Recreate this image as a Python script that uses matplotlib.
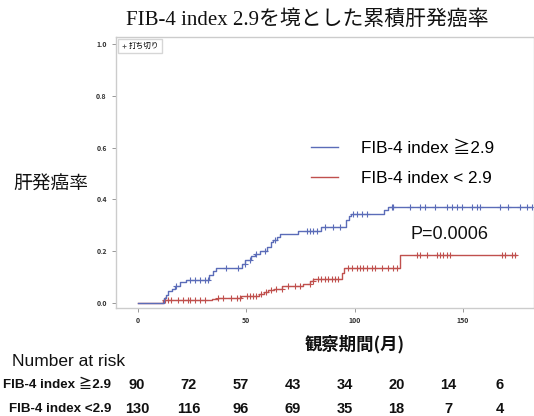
import numpy as np
import matplotlib.pyplot as plt
from matplotlib.lines import Line2D
from matplotlib.transforms import blended_transform_factory

plt.rcParams['font.family'] = ['Noto Sans CJK JP', 'DejaVu Sans']
sans = ['Liberation Sans', 'Noto Sans CJK JP']

# cumulative incidence step curves (event time, value after step)
hi_times = [0, 12, 13, 14, 15.5, 17, 19.5, 22, 33, 34.5, 36, 48, 49.5, 52, 54, 56.5,
            59.5, 61.5, 62.5, 64, 65.5, 74, 84.5, 96, 97.5, 98.5, 113.5, 115.5]
hi_vals = [0, 0.02, 0.03, 0.045, 0.055, 0.065, 0.08, 0.09, 0.11, 0.125, 0.135, 0.15, 0.165,
           0.18, 0.19, 0.2, 0.215, 0.235, 0.245, 0.255, 0.265, 0.28, 0.295, 0.32, 0.335,
           0.345, 0.36, 0.37]
hi_end = 182

lo_times = [0, 11.5, 34, 37, 47.5, 56, 58, 60, 63, 66.5, 76, 79.5, 81, 94, 95, 121]
lo_vals = [0, 0.01, 0.015, 0.019, 0.028, 0.035, 0.042, 0.05, 0.056, 0.065, 0.075, 0.085,
           0.093, 0.115, 0.137, 0.187]
lo_end = 174.5

# censored observations
hi_cens = [17.7, 23.9, 26.2, 28.5, 30.8, 32.4, 40.8, 46.2, 49.3, 51.6, 54.7, 58.6, 63.2,
           77.8, 79.4, 80.9, 82.7, 86.3, 90.1, 93.2, 99.4, 100.9, 103.2, 105.5, 117.1,
           117.9, 125.6, 130.2, 132.5, 137.1, 142.5, 144.8, 147.1, 149.5, 154.1, 156.4,
           157.9, 167.2, 171.0, 176.4, 179.5, 181.8]
lo_cens = [12.3, 13.9, 15.4, 18.5, 20.8, 23.1, 23.9, 26.2, 28.5, 30.8, 37.0, 39.3, 43.1,
           45.5, 47.0, 50.1, 51.6, 53.2, 54.7, 57.0, 59.3, 61.6, 63.9, 66.3, 69.3, 72.4,
           74.7, 79.4, 80.9, 83.2, 84.7, 86.3, 87.8, 89.4, 90.9, 92.4, 97.1, 98.6, 100.9,
           102.5, 104.0, 105.5, 107.9, 109.4, 112.5, 115.6, 117.9, 119.4, 128.7, 130.2,
           133.3, 137.9, 139.4, 141.0, 142.5, 144.1, 168.0, 169.5, 172.6, 174.1]

risk_times = [0, 25, 50, 75, 100, 125, 150, 175]
risk_hi = [90, 72, 57, 43, 34, 20, 14, 6]
risk_lo = [130, 116, 96, 69, 35, 18, 7, 4]

label_hi = 'FIB-4 index ≧2.9'
label_lo = 'FIB-4 index < 2.9'
blue = '#5b6cb8'
red = '#c0504d'


def step_value(times, vals, t):
    idx = np.searchsorted(times, t, side='right') - 1
    return np.asarray(vals)[idx]


fig = plt.figure(figsize=(5.34, 4.16), dpi=100)
ax = fig.add_axes([0.217, 0.2596, 0.783, 0.6514])

for times, vals, end, cens, col in [
    (lo_times, lo_vals, lo_end, lo_cens, red),
    (hi_times, hi_vals, hi_end, hi_cens, blue),
]:
    ax.step(list(times) + [end], list(vals) + [vals[-1]], where='post', color=col, lw=1.0)
    ax.plot(cens, step_value(times, vals, cens), ls='none', marker='+', ms=4,
            mew=0.8, color=col)

ax.set_xlim(-10.2, 182.8)
ax.set_ylim(-0.019, 1.027)
ax.set_xticks([0, 50, 100, 150])
ax.set_yticks([0.0, 0.2, 0.4, 0.6, 0.8, 1.0])
ax.set_yticklabels(['0.0', '0.2', '0.4', '0.6', '0.8', '1.0'])
ax.tick_params(labelsize=5, colors='#888888', labelcolor='#333333', length=3, width=0.6)
for lab in ax.get_xticklabels() + ax.get_yticklabels():
    lab.set_fontweight('bold')
for sp in ax.spines.values():
    sp.set_color('#cccccc')
    sp.set_linewidth(1.0)

# group legend
handles = [Line2D([], [], color=blue, lw=1.0), Line2D([], [], color=red, lw=1.0)]
leg = ax.legend(handles, [label_hi, label_lo], loc='center left',
                bbox_to_anchor=(0.43, 0.533), frameon=False,
                prop={'family': sans, 'size': 12.3},
                handlelength=1.6, handletextpad=1.3, labelspacing=0.9)
ax.add_artist(leg)

# censor legend
cens_h = [Line2D([], [], ls='none', marker='+', ms=3, mew=0.6, color='#555555')]
ax.legend(cens_h, ['打ち切り'], loc='upper left', fontsize=5.5, frameon=True,
          fancybox=False, edgecolor='#cccccc', handlelength=0.6, handletextpad=0.4,
          borderpad=0.4, borderaxespad=0.3)

ax.text(144, 0.266, 'P=0.0006', ha='center', va='center', fontsize=13,
        family=sans, color='#111111')

fig.text(0.576, 0.952, 'FIB-4 index 2.9を境とした累積肝発癌率', ha='center', va='center',
         fontsize=15, family=['Liberation Serif', 'Noto Sans CJK JP'], color='#111111')
fig.text(0.096, 0.56, '肝発癌率', ha='center', va='center', fontsize=13.5, color='#111111')
fig.text(0.665, 0.173, '観察期間(月)', ha='center', va='center', fontsize=12.5,
         fontweight='bold', color='#111111')

# number at risk table
fig.text(0.022, 0.132, 'Number at risk', ha='left', va='center', fontsize=12.5,
         family=sans, color='#111111')
risk_ax = fig.add_axes([0, 0, 1, 0.1])
risk_ax.set_xlim(-66.05, 191.4)
risk_ax.axis('off')
tr = blended_transform_factory(risk_ax.transData, fig.transFigure)
for row_label, counts, yy in [(label_hi, risk_hi, 0.0745),
                              ('FIB-4 index <2.9', risk_lo, 0.0168)]:
    fig.text(0.208, yy, row_label, ha='right', va='center', fontsize=9.6,
             fontweight='bold', family=sans, color='#111111')
    for t, n in zip(risk_times, counts):
        risk_ax.text(t, yy, str(n), transform=tr, ha='center', va='center',
                     fontsize=10.5, fontweight='bold', family=sans, color='#111111')

fig.savefig('out.png', dpi=100)
